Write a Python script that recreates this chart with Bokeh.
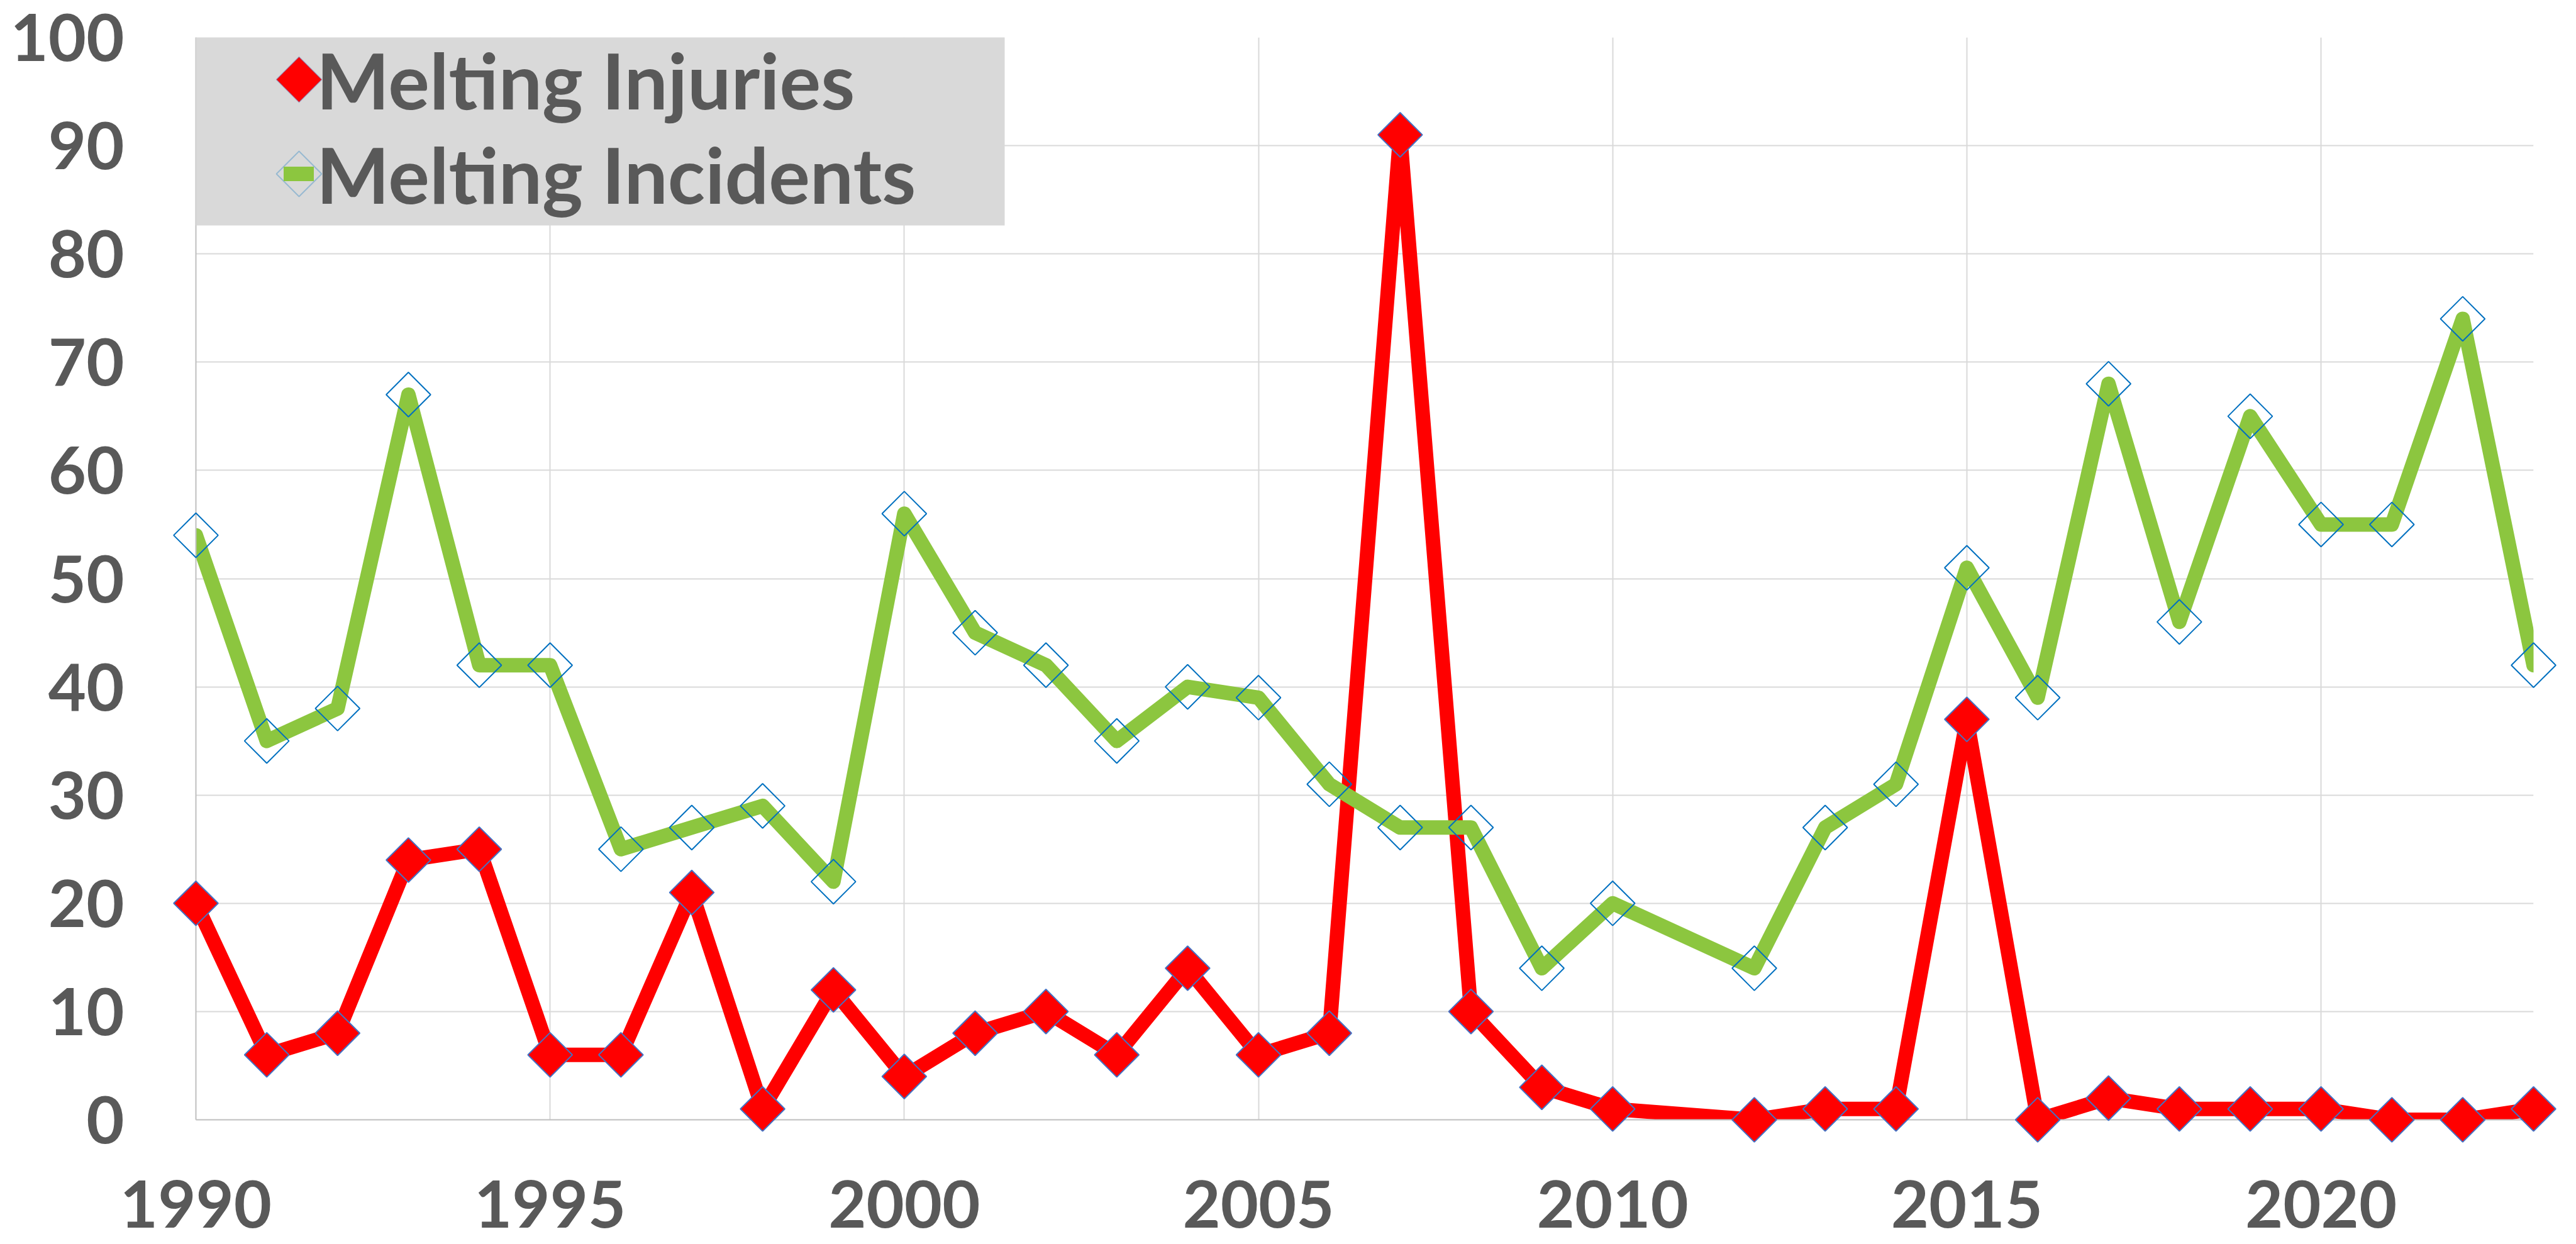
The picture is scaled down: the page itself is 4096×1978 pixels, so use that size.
import numpy as np
from bokeh.plotting import figure
from bokeh.models import (Range1d, FixedTicker, Legend, LegendItem, BoxAnnotation,
                          PolyAnnotation)
from bokeh.embed import file_html
from bokeh.resources import INLINE

# ---- data (2011 has no value; the line connects 2010 -> 2012) ----
years = [1990, 1991, 1992, 1993, 1994, 1995, 1996, 1997, 1998, 1999,
         2000, 2001, 2002, 2003, 2004, 2005, 2006, 2007, 2008, 2009,
         2010, 2012, 2013, 2014, 2015, 2016, 2017, 2018, 2019, 2020,
         2021, 2022, 2023]
injuries = [20, 6, 8, 24, 25, 6, 6, 21, 1, 12,
            4, 8, 10, 6, 14, 6, 8, 91, 10, 3,
            1, 0, 1, 1, 37, 0, 2, 1, 1, 1,
            0, 0, 1]
incidents = [54, 35, 38, 67, 42, 42, 25, 27, 29, 22,
             56, 45, 42, 35, 40, 39, 31, 27, 27, 14,
             20, 14, 27, 31, 51, 39, 68, 46, 65, 55,
             55, 74, 42]
series_names = ["Melting Injuries", "Melting Incidents"]
x_ticks = [1990, 1995, 2000, 2005, 2010, 2015, 2020]
y_ticks = [0, 10, 20, 30, 40, 50, 60, 70, 80, 90, 100]

RED = "#ff0000"
GREEN = "#8cc63f"
TXT = "#595959"
RED_EDGE = "#4472c4"
GREEN_EDGE = "#0070c0"

# layout (pixels)
FRAME_L, FRAME_R, FRAME_T, FRAME_B = 311, 68, 59, 198
W, H = 4096, 1978
LEG_BOX = dict(left=299.7, right=1597, top=51, bottom=358)
KEY_CX, KEY_CY, KEY_R = 475, [126, 276], 36
ITEM_H = 150
GLYPH_W = 48
LEG_PAD = 10

p = figure(width=W, height=H, output_backend="svg", toolbar_location=None,
           x_range=Range1d(1990, 2023), y_range=Range1d(0, 100),
           min_border_left=FRAME_L, min_border_right=FRAME_R,
           min_border_top=FRAME_T, min_border_bottom=FRAME_B)
p.outline_line_color = None
p.background_fill_color = "white"
p.border_fill_color = "white"

# grids
p.xgrid.ticker = FixedTicker(ticks=x_ticks)
p.ygrid.ticker = FixedTicker(ticks=y_ticks)
for g in (p.xgrid, p.ygrid):
    g.grid_line_color = "#d9d9d9"
    g.grid_line_width = 2

# axes
p.xaxis.ticker = FixedTicker(ticks=x_ticks)
p.yaxis.ticker = FixedTicker(ticks=y_ticks)
for ax in (p.xaxis, p.yaxis):
    ax.axis_line_color = "#bfbfbf"
    ax.axis_line_width = 2
    ax.major_tick_line_color = None
    ax.minor_tick_line_color = None
    ax.major_tick_out = 0
    ax.major_tick_in = 0
    ax.major_label_text_font = "Lato"
    ax.major_label_text_font_style = "bold"
    ax.major_label_text_font_size = "104px"
    ax.major_label_text_color = TXT
p.xaxis.major_label_standoff = 96
p.yaxis.major_label_standoff = 114

# lines (clipped to the plot area)
l_inj = p.line(years, injuries, line_color=RED, line_width=23,
               line_join="round", line_cap="round")
l_inc = p.line(years, incidents, line_color=GREEN, line_width=23,
               line_join="round", line_cap="round")

# markers (drawn above, not clipped)
m_inc = p.scatter(years, incidents, marker="square", angle=np.pi / 4, size=50,
                  fill_color=None, line_color=GREEN_EDGE, line_width=2,
                  level="overlay")
m_inj = p.scatter(years, injuries, marker="square", angle=np.pi / 4, size=50,
                  fill_color=RED, line_color=RED_EDGE, line_width=2,
                  level="overlay")

# legend background
box = BoxAnnotation(**LEG_BOX,
                    left_units="canvas", right_units="canvas",
                    top_units="canvas", bottom_units="canvas",
                    fill_color="#d9d9d9", fill_alpha=1.0, line_color=None)
p.add_layout(box)

# (the legend's padding lies outside the location given here)
legend_bottom = KEY_CY[0] - ITEM_H / 2 + 2 * ITEM_H
legend_left = KEY_CX - GLYPH_W / 2
legend = Legend(items=[LegendItem(label=series_names[0], renderers=[l_inj]),
                       LegendItem(label=series_names[1], renderers=[l_inc])],
                location=(legend_left - FRAME_L, (H - FRAME_B) - legend_bottom),
                padding=LEG_PAD, spacing=0, margin=0,
                glyph_width=GLYPH_W, glyph_height=ITEM_H, label_height=ITEM_H,
                label_standoff=4,
                label_text_font="Lato", label_text_font_style="bold",
                label_text_font_size="123px", label_text_color=TXT,
                background_fill_alpha=0, border_line_color=None)
p.add_layout(legend)

# diamond keys of the legend, drawn over the legend's line keys
for cy, fill, edge in zip(KEY_CY, [RED, None], [RED_EDGE, GREEN_EDGE]):
    key = PolyAnnotation(xs=[KEY_CX - KEY_R, KEY_CX, KEY_CX + KEY_R, KEY_CX],
                         ys=[cy, cy - KEY_R, cy, cy + KEY_R],
                         xs_units="canvas", ys_units="canvas",
                         fill_color=fill, fill_alpha=1.0 if fill else 0.0,
                         line_color=edge, line_width=2)
    p.add_layout(key)

open("out.html", "w").write(file_html(p, INLINE))
